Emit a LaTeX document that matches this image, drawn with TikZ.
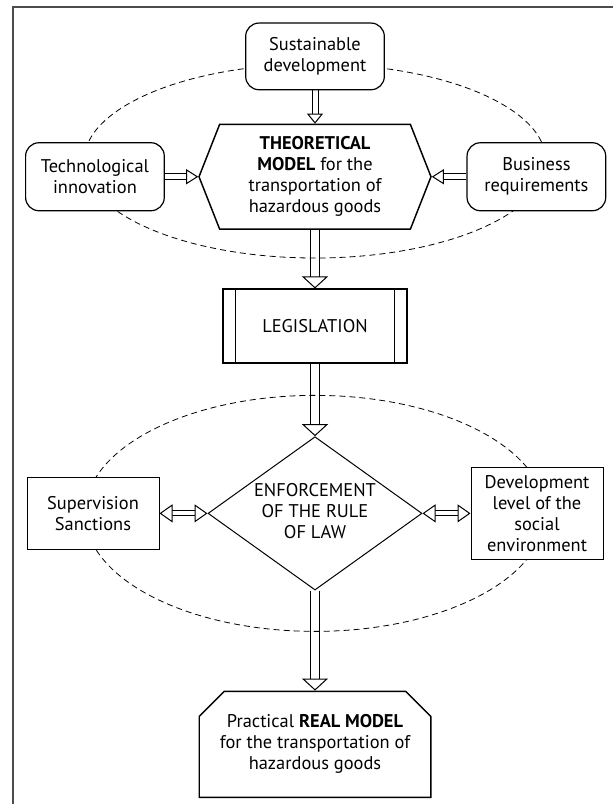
\documentclass[tikz,border=0pt]{standalone}
\usepackage{fontspec}
\setmainfont{PT Sans}
\usetikzlibrary{positioning}
\usetikzlibrary{arrows.meta}
\usetikzlibrary{shapes.geometric}
\usetikzlibrary{shapes.symbols}
\usetikzlibrary{shapes.misc}
\usetikzlibrary{backgrounds}

\begin{document}
\begin{tikzpicture}[x=0.75pt, y=-0.75pt,
    font=\fontsize{13.8pt}{15.75pt}\selectfont,
    every node/.style={align=center, inner sep=0pt},
    roundbox/.style={rectangle, rounded corners=10pt, draw=black, line width=0.9pt, fill=white, minimum width=104pt, minimum height=51pt},
    plainbox/.style={rectangle, draw=black, line width=0.75pt, fill=white, minimum width=99pt},
    zone/.style={dash pattern=on 4.5pt off 3pt, line width=0.6pt},
    % hollow block arrows: black band, white core, open head on top
    flow/.style={draw=white, line width=0.75pt,
        preaction={draw=black, -, line width=7.5pt, shorten >=5pt},
        preaction={draw=white, -, line width=6pt, shorten >=5pt},
        -{Triangle[length=9pt, width=19.5pt, color=black, fill=white]}},
    flowtop/.style={draw=white, line width=0.75pt,
        preaction={draw=black, -, line width=5.25pt, shorten >=4pt},
        preaction={draw=white, -, line width=3.75pt, shorten >=4pt},
        -{Triangle[length=7.5pt, width=12pt, color=black, fill=white]}},
    flowthin/.style={draw=white, line width=0.75pt,
        preaction={draw=black, -, line width=5pt, shorten >=5pt},
        preaction={draw=white, -, line width=3.5pt, shorten >=5pt},
        -{Triangle[length=9pt, width=11.25pt, color=black, fill=white]}},
    flowboth/.style={draw=white, line width=0.75pt,
        preaction={draw=black, -, line width=4.5pt, shorten >=5pt, shorten <=5pt},
        preaction={draw=white, -, line width=3pt, shorten >=5pt, shorten <=5pt},
        {Triangle[length=9.75pt, width=13.5pt, color=black, fill=white]}-{Triangle[length=9.75pt, width=13.5pt, color=black, fill=white]}}
  ]
    \useasboundingbox (0,0) rectangle (613,804);
    \draw[line width=1.5pt, black!70] (13,804) -- (13,7) -- (613,7);

    \node (sust) [roundbox, minimum height=50pt] at (315,56.4) {Sustainable\\development};
    \node (theory) [signal, signal to=east and west, signal pointer angle=137, draw=black, line width=1.1pt, fill=white, minimum width=174pt, minimum height=78.5pt, below = 25pt of sust] {\textbf{THEORETICAL}\\\textbf{MODEL} for the\\transportation of\\hazardous goods};
    \node (tech) [roundbox, left = 25pt of theory] {Technological\\innovation};
    \node (business) [roundbox, right = 26pt of theory] {Business\\requirements};

    \node (legis) [rectangle, draw=black, line width=1.3pt, fill=white, minimum width=138pt, minimum height=55pt, below = 44pt of theory,
        path picture={
          \draw[line width=1pt] ([xshift=9.4pt]path picture bounding box.north west) -- ([xshift=9.4pt]path picture bounding box.south west);
          \draw[line width=1pt] ([xshift=-9.4pt]path picture bounding box.north east) -- ([xshift=-9.4pt]path picture bounding box.south east);
        }] {LEGISLATION};

    \node (enforce) [diamond, aspect=1.4, draw=black, line width=0.75pt, fill=white, minimum width=160.5pt, minimum height=115pt, below = 54.5pt of legis] {\raisebox{-4pt}{\begin{tabular}{@{}c@{}}ENFORCEMENT\\OF THE RULE\\OF LAW\end{tabular}}};
    \node (supervision) [plainbox, minimum height=54.3pt, left = 36pt of enforce] {Supervision\\Sanctions};
    \node (develop) [plainbox, minimum height=69.3pt, right = 36pt of enforce] {Development\\level of the\\social\\environment};

    \node (real) [chamfered rectangle, chamfered rectangle corners={north west, north east}, chamfered rectangle xsep=15.5pt, draw=black, line width=1.1pt, fill=white, minimum width=163.5pt, minimum height=79.5pt, below = 75pt of enforce] {Practical \textbf{REAL MODEL}\\for the transportation of\\hazardous goods};

    \begin{scope}[on background layer]
        \draw[flowtop] (sust.south) -- (theory.north);
        \draw[flowthin] (tech.east) -- (theory.west);
        \draw[flowthin] (business.west) -- (theory.east);
        \draw[flow] (theory.south) -- (legis.north);
        \draw[flow] (legis.south) -- (enforce.north);
        \draw[flow] (enforce.south) -- (real.north);
        \draw[flowboth] (supervision.east) -- (enforce.west);
        \draw[flowboth] (develop.west) -- (enforce.east);

        \draw[zone] (315,161) ellipse [x radius=173.25pt, y radius=72.75pt];
        \draw[zone] (enforce.center) ellipse [x radius=172.5pt, y radius=88.5pt];
    \end{scope}
\end{tikzpicture}
\end{document}
